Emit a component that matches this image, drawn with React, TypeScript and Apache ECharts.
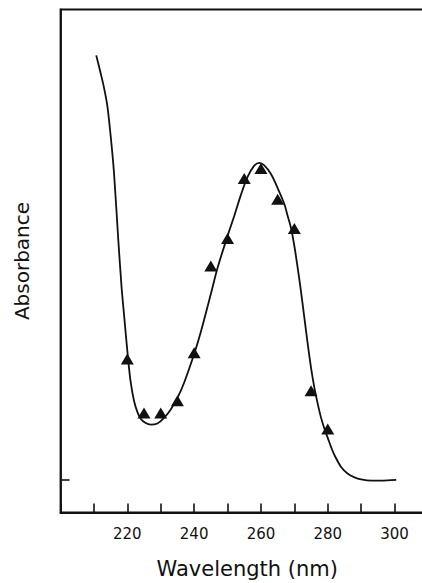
import React, { useEffect, useRef } from "react";
import * as echarts from "echarts";

// Measured points (triangles): wavelength (nm) and absorbance (arbitrary units)
const pointWavelength = [220, 225, 230, 235, 240, 245, 250, 255, 260, 265, 270, 275, 280];
const pointAbsorbance = [0.302, 0.167, 0.167, 0.198, 0.318, 0.535, 0.604, 0.754, 0.779, 0.702, 0.629, 0.223, 0.127];

// Continuous spectrum curve
const curveWavelength = [
  210.7, 212, 213, 214, 215, 216, 217.3, 218.3, 219, 220.2, 221, 222, 223, 224, 225.5, 227, 229, 231, 233, 235, 237,
  240, 242, 245, 247, 250, 252, 254, 256, 258, 259.5, 261, 263, 265, 267, 268, 269, 270, 271, 272, 273, 274, 275,
  276, 277, 278, 279, 280, 281, 282, 284, 286, 288, 290, 293, 296, 300.5,
];
const curveAbsorbance = [
  1.062, 1.018, 0.982, 0.937, 0.862, 0.77, 0.6, 0.48, 0.415, 0.305, 0.245, 0.198, 0.17, 0.153, 0.142, 0.138, 0.141,
  0.155, 0.176, 0.205, 0.243, 0.315, 0.37, 0.465, 0.53, 0.61, 0.66, 0.713, 0.758, 0.786, 0.793, 0.787, 0.765, 0.73,
  0.69, 0.66, 0.63, 0.585, 0.53, 0.47, 0.405, 0.34, 0.28, 0.23, 0.19, 0.155, 0.128, 0.105, 0.082, 0.062, 0.032,
  0.015, 0.006, 0.001, -0.002, -0.002, 0,
];

const xTickLabels = [220, 240, 260, 280, 300];
const yTickValues = [0];

const FONT = "DejaVu Sans";

export default function App() {
  const ref = useRef<HTMLDivElement>(null);

  useEffect(() => {
    if (!ref.current) return;
    const chart = echarts.init(ref.current, null, { renderer: "svg" });
    const curve = curveWavelength.map((w, i) => [w, curveAbsorbance[i]]);
    const pts = pointWavelength.map((w, i) => [w, pointAbsorbance[i]]);
    chart.setOption({
      animation: false,
      backgroundColor: "#ffffff",
      grid: {
        left: 60.5,
        top: 9.5,
        right: -12,
        bottom: 70.5,
        outerBoundsMode: "none",
        containLabel: false,
        show: true,
        borderColor: "#111",
        borderWidth: 1.8,
        backgroundColor: "transparent",
      },
      xAxis: {
        type: "value",
        min: 200,
        max: 311.8,
        interval: 10,
        name: "Wavelength (nm)",
        nameLocation: "middle",
        nameGap: 46,
        nameTextStyle: { fontFamily: FONT, fontSize: 21, color: "#111" },
        axisLine: { show: true, onZero: false, lineStyle: { color: "#111", width: 1.8 } },
        axisTick: { show: true, inside: true, length: 9, lineStyle: { color: "#111", width: 1.6 } },
        axisLabel: {
          fontFamily: FONT,
          fontSize: 15,
          color: "#111",
          margin: 14,
          formatter: (v: number) => (xTickLabels.includes(v) ? String(v) : ""),
        },
        splitLine: { show: false },
      },
      yAxis: {
        type: "value",
        min: -0.08175,
        max: 1.17675,
        name: "Absorbance",
        nameLocation: "middle",
        nameGap: 29,
        nameRotate: 90,
        nameTextStyle: { fontFamily: FONT, fontSize: 20, color: "#111" },
        axisLine: { show: true, onZero: false, lineStyle: { color: "#111", width: 1.8 } },
        axisTick: {
          show: true,
          inside: true,
          length: 9,
          customValues: yTickValues,
          lineStyle: { color: "#111", width: 1.6 },
        },
        axisLabel: { show: false },
        splitLine: { show: false },
      },
      series: [
        {
          type: "line",
          data: curve,
          smooth: 0.3,
          showSymbol: false,
          symbol: "none",
          lineStyle: { color: "#111", width: 1.8 },
          z: 2,
        },
        {
          type: "scatter",
          data: pts,
          symbol: "triangle",
          symbolSize: [13, 11],
          itemStyle: { color: "#111", opacity: 1 },
          z: 3,
        },
      ],
    });
    return () => chart.dispose();
  }, []);

  return (
    <div
      ref={ref}
      style={{ position: "absolute", left: 0, top: 0, width: 422, height: 583, background: "#fff" }}
    />
  );
}
